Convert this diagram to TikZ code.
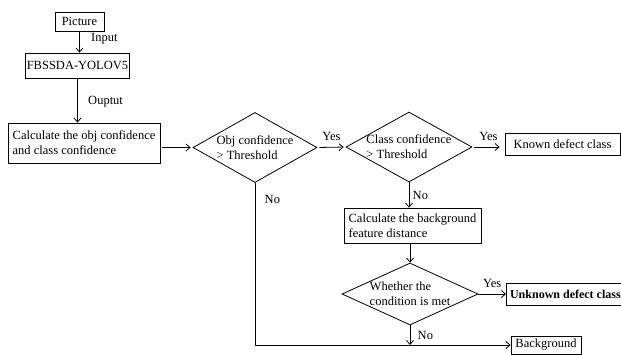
\documentclass[tikz,border=0pt]{standalone}
\usepackage{fontspec}
\setmainfont{Liberation Serif}
\usetikzlibrary{shapes.geometric, arrows.meta}
\begin{document}
\begin{tikzpicture}[x=1pt, y=-1pt, >={Straight Barb[length=4pt, width=7pt]},
  line width=0.8pt, font=\fontsize{12.5}{15}\selectfont,
  box/.style={draw, align=left, inner xsep=4.5pt, inner ysep=1pt},
  dec/.style={diamond, draw, inner sep=0pt},
  hop/.style={->, shorten <=2pt, shorten >=2pt}]
\useasboundingbox (0,0) rectangle (621,354);
% input side
\node[box, minimum width=49, minimum height=19] (pic) at (79.5,21.5) {Picture};
\node[box, inner xsep=1pt, minimum width=103, minimum height=25] (net) at (77.5,65.5) {FBSSDA-YOLOV5};
\node[box, minimum width=152, minimum height=40] (calc) at (84,143)
  {Calculate the obj confidence\\and class confidence};
\draw[->] (pic) -- (pic |- net.north) node[pos=0.35, right=8pt] {Input};
\draw[->] (net.south) -- (net.south |- calc.north) node[pos=0.52, right=7pt] {Ouptut};
% decisions
\node[dec, minimum width=124, minimum height=70,
  label={[align=left]center:Obj confidence\\> Threshold}] (obj) at (255,147.5) {};
\node[dec, minimum width=126, minimum height=70,
  label={[align=left]center:Class confidence\\> Threshold}] (cls) at (409,147) {};
\node[box, minimum width=115, minimum height=22, align=center] (known) at (562.5,144) {Known defect class};
\node[box, minimum width=137, minimum height=35] (dist) at (412.5,225.5)
  {Calculate the background\\feature distance};
\node[dec, minimum width=136, minimum height=62,
  label={[align=left]center:Whether the\\condition is met}] (cond) at (410,294) {};
\node[box, inner xsep=1.5pt, minimum height=22, minimum width=118, anchor=west, align=left,
  font=\fontsize{12}{15}\selectfont\bfseries] (unk) at (506,294) {Unknown defect class};
\node[box, minimum width=68, minimum height=18, align=center] (bg) at (546,345) {Background};
% connectors
\draw[hop] (calc.east |- obj.west) -- (obj.west);
\draw[hop] (obj.east) -- (cls.west) node[midway, above=3pt] {Yes};
\draw[hop, shorten >=5pt] (cls.east) -- (cls.east -| known.west) node[midway, above=3pt] {Yes};
\draw[->] (cls.south) -- (cls.south |- dist.north) node[midway, right] {No};
\draw[->] (dist.south -| cond.north) -- (cond.north);
\draw[->] (cond.east) -- (unk.west) node[midway, above=3pt] {Yes};
\draw[->] (cond.south) -- (cond.south |- bg.west) node[midway, right=4pt] {No};
\draw[->] (obj.south) |- (bg.west) node[pos=0.05, right=6pt] {No};
\end{tikzpicture}
\end{document}
